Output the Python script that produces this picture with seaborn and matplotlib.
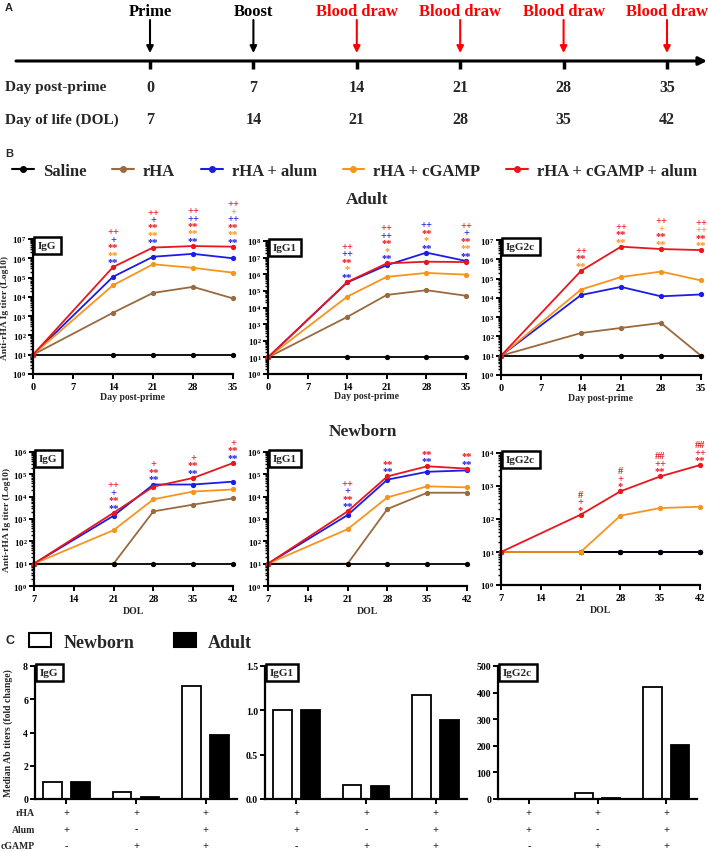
import numpy as np
import pandas as pd
import matplotlib
matplotlib.use("Agg")
import matplotlib.pyplot as plt
import seaborn as sns
from matplotlib.lines import Line2D
from matplotlib.patches import Patch
from matplotlib.ticker import LogLocator, FuncFormatter, NullFormatter

sns.set_style("ticks")
plt.rcParams.update({
    "font.family": ["Liberation Serif", "DejaVu Serif"],
    "font.weight": "bold",
    "axes.labelweight": "bold",
    "mathtext.fontset": "custom",
    "mathtext.rm": "Liberation Serif:bold",
    "mathtext.it": "Liberation Serif:italic:bold",
    "mathtext.bf": "Liberation Serif:bold",
    "axes.linewidth": 1.6,
    "axes.edgecolor": "black",
    "xtick.major.width": 1.4, "ytick.major.width": 1.4,
    "ytick.minor.width": 1.0, "xtick.minor.width": 1.0,
    "xtick.major.size": 3.5, "ytick.major.size": 3.5, "ytick.minor.size": 2.0,
    "xtick.direction": "out", "ytick.direction": "out",
    "xtick.color": "black", "ytick.color": "black",
})

# ---------------- data ----------------
timeline_days = [0, 7, 14, 21, 28, 35]
timeline_dol = [7, 14, 21, 28, 35, 42]
timeline_events = ["Prime", "Boost", "Blood draw", "Blood draw", "Blood draw", "Blood draw"]
timeline_colors = ["black", "black", "red", "red", "red", "red"]

groups = ["Saline", "rHA", "rHA + alum", "rHA + cGAMP", "rHA + cGAMP + alum"]
group_colors = ["#000000", "#9a6a3e", "#1c1ce6", "#f7941d", "#e8161d"]
draw_order = ["rHA", "rHA + alum", "Saline", "rHA + cGAMP", "rHA + cGAMP + alum"]

adult_days = [0, 14, 21, 28, 35]
adult_ticks = [0, 7, 14, 21, 28, 35]
dol_days = [7, 21, 28, 35, 42]
dol_ticks = [7, 14, 21, 28, 35, 42]

# Adult IgG
a_igg_saline = [10, 10, 10, 10, 10]
a_igg_rha = [10, 1.5e3, 1.6e4, 3.3e4, 8.3e3]
a_igg_alum = [10, 1.1e5, 1.2e6, 1.7e6, 1.0e6]
a_igg_cgamp = [10, 4.0e4, 4.9e5, 3.2e5, 1.8e5]
a_igg_both = [10, 3.5e5, 3.6e6, 4.3e6, 4.0e6]
# Adult IgG1
a_igg1_saline = [10, 10, 10, 10, 10]
a_igg1_rha = [10, 2.7e3, 5.7e4, 1.1e5, 5.1e4]
a_igg1_alum = [10, 3.2e5, 3.5e6, 2.0e7, 6.3e6]
a_igg1_cgamp = [10, 4.5e4, 7.0e5, 1.2e6, 9.5e5]
a_igg1_both = [10, 3.4e5, 4.5e6, 5.7e6, 5.4e6]
# Adult IgG2c
a_igg2c_saline = [10, 10, 10, 10, 10]
a_igg2c_rha = [10, 150, 275, 500, 10]
a_igg2c_alum = [10, 1.4e4, 3.7e4, 1.2e4, 1.5e4]
a_igg2c_cgamp = [10, 2.7e4, 1.2e5, 2.3e5, 8.0e4]
a_igg2c_both = [10, 2.5e5, 4.5e6, 3.4e6, 3.0e6]
# Newborn IgG
n_igg_saline = [10, 10, 10, 10, 10]
n_igg_rha = [10, 10, 2.2e3, 4.4e3, 8.4e3]
n_igg_alum = [10, 1.4e3, 3.5e4, 3.5e4, 4.7e4]
n_igg_cgamp = [10, 316, 7.6e3, 1.7e4, 2.1e4]
n_igg_both = [10, 1.9e3, 2.8e4, 6.9e4, 3.2e5]
# Newborn IgG1
n_igg1_saline = [10, 10, 10, 10, 10]
n_igg1_rha = [10, 10, 2.8e3, 1.5e4, 1.5e4]
n_igg1_alum = [10, 1.5e3, 5.8e4, 1.3e5, 1.5e5]
n_igg1_cgamp = [10, 350, 9.3e3, 2.9e4, 2.6e4]
n_igg1_both = [10, 2.2e3, 8.1e4, 2.3e5, 1.8e5]
# Newborn IgG2c
n_igg2c_saline = [10, 10, 10, 10, 10]
n_igg2c_rha = [10, 10, 10, 10, 10]
n_igg2c_alum = [10, 10, 10, 10, 10]
n_igg2c_cgamp = [10, 10, 126, 215, 235]
n_igg2c_both = [10, 135, 690, 1950, 4300]

# significance marks (top to bottom) per time point
a_igg_sig = {14: [("++", "r"), ("+", "b"), ("**", "r"), ("**", "o"), ("**", "b")],
             21: [("++", "r"), ("+", "b"), ("**", "r"), ("**", "o"), ("**", "b")],
             28: [("++", "r"), ("++", "b"), ("**", "r"), ("**", "o"), ("**", "b")],
             35: [("++", "r"), ("+", "o"), ("++", "b"), ("**", "r"), ("**", "o"), ("**", "b")]}
a_igg1_sig = {14: [("++", "r"), ("++", "b"), ("**", "r"), ("*", "o"), ("**", "b")],
              21: [("++", "r"), ("++", "b"), ("**", "r"), ("*", "o"), ("**", "b")],
              28: [("++", "b"), ("**", "r"), ("*", "o"), ("**", "b")],
              35: [("++", "r"), ("+", "b"), ("**", "r"), ("**", "o"), ("**", "b")]}
a_igg2c_sig = {14: [("++", "r"), ("**", "r"), ("**", "o")],
               21: [("++", "r"), ("**", "r"), ("**", "o")],
               28: [("++", "r"), ("+", "o"), ("**", "r"), ("**", "o")],
               35: [("++", "r"), ("++", "o"), ("**", "r"), ("**", "o")]}
n_igg_sig = {21: [("++", "r"), ("+", "b"), ("**", "r"), ("**", "b")],
             28: [("+", "r"), ("**", "r"), ("**", "b")],
             35: [("+", "r"), ("**", "r"), ("**", "b")],
             42: [("+", "r"), ("**", "r"), ("**", "b")]}
n_igg1_sig = {21: [("++", "r"), ("+", "b"), ("**", "r"), ("**", "b")],
              28: [("**", "r"), ("**", "b")],
              35: [("**", "r"), ("**", "b")],
              42: [("**", "r"), ("**", "b")]}
n_igg2c_sig = {21: [("#", "r"), ("+", "r"), ("*", "r")],
               28: [("#", "r"), ("+", "r"), ("*", "r")],
               35: [("##", "r"), ("++", "r"), ("**", "r")],
               42: [("##", "r"), ("++", "r"), ("**", "r")]}
sig_colors = {"r": "#e8161d", "b": "#1c1ce6", "o": "#f7941d"}

# Panel C
conditions = ["rHA+Alum", "rHA+cGAMP", "rHA+cGAMP+Alum"]
ages = ["Newborn", "Adult"]
fc_igg_newborn = [1.0, 0.40, 6.8]
fc_igg_adult = [1.0, 0.15, 3.85]
fc_igg1_newborn = [1.0, 0.16, 1.17]
fc_igg1_adult = [1.0, 0.15, 0.89]
fc_igg2c_newborn = [1.0, 21.0, 420.0]
fc_igg2c_adult = [1.0, 2.0, 203.0]
table_rows = ["rHA", "Alum", "cGAMP"]
rha_signs = ["+", "+", "+"]
alum_signs = ["+", "-", "+"]
cgamp_signs = ["-", "+", "+"]

# ---------------- figure ----------------
W, H = 708, 853
fig = plt.figure(figsize=(W / 100, H / 100), dpi=100)


def px_rect(left, top, right, bottom):
    return [left / W, 1 - bottom / H, (right - left) / W, (bottom - top) / H]


palette = dict(zip(groups, group_colors))

# ---- Panel A: timeline ----
axA = fig.add_axes([0, 1 - 150 / H, 1, 150 / H])
pxd = (667 - 150) / 35.0
xd = lambda px: (px - 150) / pxd
axA.set_xlim(xd(0), xd(W))
axA.set_ylim(150, 0)
axA.axis("off")
axA.annotate("", xy=(xd(707), 62), xytext=(xd(16), 62),
             arrowprops=dict(arrowstyle="-|>", lw=2.2, color="black", mutation_scale=12,
                             shrinkA=0, shrinkB=0))
axA.vlines(timeline_days, 62, 70, color="black", lw=2.5)
for d, ev, c in zip(timeline_days, timeline_events, timeline_colors):
    axA.text(d, 12, ev, ha="center", va="center", color=c, fontsize=12)
    axA.annotate("", xy=(d, 54), xytext=(d, 21),
                 arrowprops=dict(arrowstyle="-|>", lw=1.5, color=c, mutation_scale=10,
                                 shrinkA=0, shrinkB=0))
axA.text(xd(5), 88, "Day post-prime", ha="left", va="center", fontsize=11)
axA.text(xd(5), 120, "Day of life (DOL)", ha="left", va="center", fontsize=11)
for d, dl in zip(timeline_days, timeline_dol):
    axA.text(d, 88, str(d), ha="center", va="center", fontsize=11.5)
    axA.text(d, 120, str(dl), ha="center", va="center", fontsize=11.5)

fig.text(5 / W, 1 - 8 / H, "A", family="Liberation Sans", weight="bold", fontsize=8, va="center")
fig.text(5 / W, 1 - 154 / H, "B", family="Liberation Sans", weight="bold", fontsize=8, va="center")
fig.text(5 / W, 1 - 641 / H, "C", family="Liberation Sans", weight="bold", fontsize=9, va="center")

# ---- legend B ----
handles = [Line2D([0], [0], color=c, lw=1.5, marker="o", markersize=4) for c in group_colors]
fig.legend(handles, groups, loc="center left", bbox_to_anchor=(12 / W, 1 - 172 / H),
           ncol=5, frameon=False, fontsize=12, handlelength=1.3, handletextpad=0.55,
           columnspacing=1.55, borderpad=0, borderaxespad=0)

fig.text(367 / W, 1 - 200 / H, "Adult", ha="center", va="center", fontsize=12.5)
fig.text(363 / W, 1 - 432 / H, "Newborn", ha="center", va="center", fontsize=12.5)


def log_fmt(v, pos):
    return r"$\mathregular{10^{%d}}$" % int(round(np.log10(v)))


def line_panel(rect, days, series, ytop, xticks, name, xlabel, ylabel, sig, xlab_y):
    ax = fig.add_axes(px_rect(*rect))
    rows = []
    for g, vals in zip(groups, series):
        for d, v in zip(days, vals):
            rows.append((g, d, v))
    df = pd.DataFrame(rows, columns=["group", "day", "titer"])
    sns.lineplot(data=df, x="day", y="titer", hue="group", hue_order=draw_order,
                 palette=palette, marker="o", markersize=3.8, markeredgewidth=0,
                 linewidth=1.3, legend=False, errorbar=None, ax=ax, clip_on=False)
    ax.set_yscale("log")
    ax.set_ylim(1, ytop)
    ax.set_xlim(xticks[0], xticks[-1])
    ax.set_xticks(xticks)
    ax.set_xticklabels([str(t) for t in xticks], fontsize=7.5)
    ax.yaxis.set_major_locator(LogLocator(base=10, numticks=20))
    ax.yaxis.set_minor_locator(LogLocator(base=10, subs=np.arange(2, 10), numticks=200))
    ax.yaxis.set_major_formatter(FuncFormatter(log_fmt))
    ax.yaxis.set_minor_formatter(NullFormatter())
    ax.tick_params(axis="y", labelsize=6.5, pad=1.2)
    ax.tick_params(axis="x", pad=2)
    sns.despine(ax=ax)
    ax.set_xlabel(xlabel, fontsize=7)
    ax.xaxis.set_label_coords(0.5, xlab_y)
    if ylabel:
        ax.set_ylabel(ylabel, fontsize=6.8)
        ax.yaxis.set_label_coords(-0.118, 0.5)
    else:
        ax.set_ylabel("")
    ax.text(0.025, 0.985, name, transform=ax.transAxes, ha="left", va="top", fontsize=8,
            bbox=dict(boxstyle="square,pad=0.4", fc="white", ec="black", lw=1.8), zorder=6)
    arr = np.array(series, dtype=float)
    for x, items in sig.items():
        ymax = arr[:, days.index(x)].max()
        for i, (t, c) in enumerate(reversed(items)):
            ax.annotate(t, xy=(x, ymax), xytext=(0, 4.0 + i * 5.4), textcoords="offset points",
                        ha="center", va="center", color=sig_colors[c], fontsize=7.5,
                        annotation_clip=False)
    return ax


ylab = "Anti-rHA Ig titer (Log10)"
line_panel((33, 240, 233, 375), adult_days,
           [a_igg_saline, a_igg_rha, a_igg_alum, a_igg_cgamp, a_igg_both],
           1e7, adult_ticks, "IgG", "Day post-prime", ylab, a_igg_sig, -0.13)
line_panel((268, 242, 466, 375), adult_days,
           [a_igg1_saline, a_igg1_rha, a_igg1_alum, a_igg1_cgamp, a_igg1_both],
           1e8, adult_ticks, "IgG1", "Day post-prime", None, a_igg1_sig, -0.13)
line_panel((501, 241, 701, 376), adult_days,
           [a_igg2c_saline, a_igg2c_rha, a_igg2c_alum, a_igg2c_cgamp, a_igg2c_both],
           1e7, adult_ticks, "IgG2c", "Day post-prime", None, a_igg2c_sig, -0.13)

line_panel((34, 453, 233, 587), dol_days,
           [n_igg_saline, n_igg_rha, n_igg_alum, n_igg_cgamp, n_igg_both],
           1e6, dol_ticks, "IgG", "DOL", ylab, n_igg_sig, -0.15)
line_panel((268, 453, 467, 587), dol_days,
           [n_igg1_saline, n_igg1_rha, n_igg1_alum, n_igg1_cgamp, n_igg1_both],
           1e6, dol_ticks, "IgG1", "DOL", None, n_igg1_sig, -0.15)
line_panel((501, 454, 700, 586), dol_days,
           [n_igg2c_saline, n_igg2c_rha, n_igg2c_alum, n_igg2c_cgamp, n_igg2c_both],
           1e4, dol_ticks, "IgG2c", "DOL", None, n_igg2c_sig, -0.15)


# ---- Panel C: bars ----
def bar_panel(rect, newborn, adult, ymax, yticks, ytlabels, name, ylabel, show_rows):
    ax = fig.add_axes(px_rect(*rect))
    df = pd.DataFrame({"cond": conditions * 2,
                       "age": ["Newborn"] * 3 + ["Adult"] * 3,
                       "fold": list(newborn) + list(adult)})
    sns.barplot(data=df, x="cond", y="fold", hue="age", hue_order=ages, order=conditions,
                palette={"Newborn": "white", "Adult": "black"}, edgecolor="black",
                linewidth=1.3, width=0.8, gap=0.33, errorbar=None, legend=False, ax=ax)
    ax.set_xlim(-0.45, 2.45)
    ax.set_ylim(0, ymax)
    ax.set_yticks(yticks)
    ax.set_yticklabels(ytlabels, fontsize=7)
    ax.set_xticks([0, 1, 2])
    ax.set_xticklabels([])
    ax.tick_params(axis="y", pad=1.5)
    ax.set_xlabel("")
    sns.despine(ax=ax)
    if ylabel:
        ax.set_ylabel(ylabel, fontsize=7)
        ax.yaxis.set_label_coords(-0.11, 0.5)
    else:
        ax.set_ylabel("")
    ax.text(0.025, 0.985, name, transform=ax.transAxes, ha="left", va="top", fontsize=8,
            bbox=dict(boxstyle="square,pad=0.4", fc="white", ec="black", lw=1.8), zorder=6)
    trans = ax.get_xaxis_transform()
    row_y = [-0.098, -0.226, -0.353]
    for ry, rowname, signs in zip(row_y, table_rows, [rha_signs, alum_signs, cgamp_signs]):
        for i, s in enumerate(signs):
            ax.text(i, ry, s, transform=trans, ha="center", va="center", fontsize=7.5)
        if show_rows:
            ax.text(0.0, ry, rowname, transform=ax.transAxes, ha="right", va="center",
                    fontsize=7)
    return ax


bar_panel((35, 667, 237, 800), fc_igg_newborn, fc_igg_adult, 8, [0, 2, 4, 6, 8],
          ["0", "2", "4", "6", "8"], "IgG", "Median Ab titers (fold change)", True)
bar_panel((265, 667, 467, 800), fc_igg1_newborn, fc_igg1_adult, 1.5, [0, 0.5, 1.0, 1.5],
          ["0.0", "0.5", "1.0", "1.5"], "IgG1", None, False)
bar_panel((498, 667, 697, 800), fc_igg2c_newborn, fc_igg2c_adult, 500,
          [0, 100, 200, 300, 400, 500], ["0", "100", "200", "300", "400", "500"],
          "IgG2c", None, False)

fig.legend([Patch(fc="white", ec="black", lw=1.5), Patch(fc="black", ec="black", lw=1.5)],
           ages, loc="center left", bbox_to_anchor=(29 / W, 1 - 643 / H), ncol=2,
           frameon=False, fontsize=13, handlelength=1.2, handleheight=0.8,
           handletextpad=0.7, columnspacing=2.2, borderpad=0, borderaxespad=0)

fig.savefig("out.png", dpi=100)
